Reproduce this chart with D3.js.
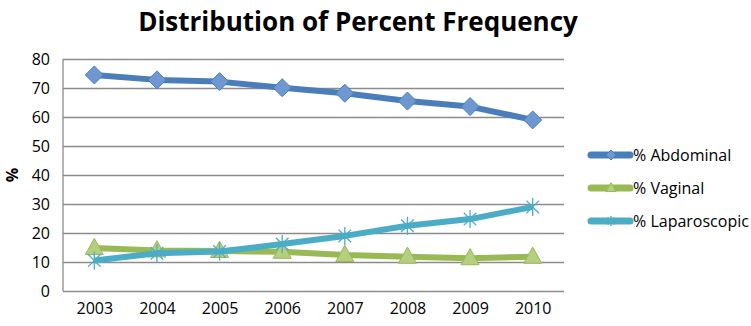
<!DOCTYPE html>
<html>
<head>
<meta charset="utf-8">
<script src="https://cdn.jsdelivr.net/npm/d3@7"></script>
<style>
  body { margin: 0; background: #fff; }
  text { font-family: "Open Sans", "Liberation Sans", sans-serif; fill: #000; }
  .grid line { stroke: #8c8c8c; stroke-width: 1.3; }
  .grid path { display: none; }
  .axis path, .axis line { display: none; }
</style>
</head>
<body>
<svg id="chart" width="751" height="326"></svg>
<script>
// data
const years = ['2003', '2004', '2005', '2006', '2007', '2008', '2009', '2010'];
const abdominal = [74.5, 72.8, 72.2, 70.1, 68.2, 65.5, 63.6, 59];
const vaginal = [14.8, 14.0, 13.8, 13.5, 12.4, 11.8, 11.3, 11.8];
const laparoscopic = [10.5, 13.0, 13.6, 16.2, 19.0, 22.5, 24.8, 29.0];
const yTicks = [0, 10, 20, 30, 40, 50, 60, 70, 80];
const title = 'Distribution of Percent Frequency';

const series = [
  {name: '% Abdominal', values: abdominal, color: '#4a7ebb', fill: '#6f98d2', marker: 'diamond'},
  {name: '% Vaginal', values: vaginal, color: '#98b954', fill: '#b5cf80', marker: 'triangle'},
  {name: '% Laparoscopic', values: laparoscopic, color: '#4bacc6', fill: 'none', marker: 'star'}
];

const svg = d3.select('#chart');
const margin = {top: 59, left: 63, right: 187, bottom: 35};
const chartWidth = 751 - margin.left - margin.right;
const chartHeight = 326 - margin.top - margin.bottom;

const xScale = d3.scalePoint()
  .domain(years)
  .range([0, chartWidth])
  .padding(0.5);

const yScale = d3.scaleLinear()
  .domain([0, 80])
  .range([chartHeight, 0]);

const g = svg.append('g')
  .attr('transform', `translate(${margin.left}, ${margin.top})`);

// gridlines
g.append('g')
  .attr('class', 'grid')
  .call(d3.axisLeft(yScale).tickValues(yTicks).tickSize(-chartWidth).tickFormat(''));

// left border of plot
g.append('line')
  .attr('x1', 0).attr('x2', 0)
  .attr('y1', 0).attr('y2', chartHeight)
  .attr('stroke', '#8c8c8c').attr('stroke-width', 1.3);

// axes labels
g.append('g')
  .attr('class', 'axis')
  .call(d3.axisLeft(yScale).tickValues(yTicks).tickSize(0).tickPadding(13))
  .selectAll('text')
  .style('font-size', '16px');

g.append('g')
  .attr('class', 'axis')
  .attr('transform', `translate(0, ${chartHeight})`)
  .call(d3.axisBottom(xScale).tickSize(0).tickPadding(12))
  .selectAll('text')
  .style('font-size', '16px');

// marker drawing (r = half width)
function drawMarker(sel, s, r) {
  if (s.marker === 'diamond') {
    sel.append('path')
      .attr('d', `M0,${-r}L${r},0L0,${r}L${-r},0Z`)
      .attr('fill', s.fill).attr('stroke', s.color).attr('stroke-width', 1);
  } else if (s.marker === 'triangle') {
    const h = r * 1.8;
    sel.append('path')
      .attr('d', `M0,${-h * 0.6}L${r},${h * 0.4}L${-r},${h * 0.4}Z`)
      .attr('fill', s.fill).attr('stroke', s.color).attr('stroke-width', 1);
  } else {
    const a = r * 0.7;
    const lines = [[0, -r, 0, r], [-a, -a, a, a], [-a, a, a, -a]];
    sel.selectAll('line.star').data(lines).join('line')
      .attr('class', 'star')
      .attr('x1', d => d[0]).attr('y1', d => d[1])
      .attr('x2', d => d[2]).attr('y2', d => d[3])
      .attr('stroke', s.color).attr('stroke-width', 1.3);
  }
}

const line = d3.line()
  .x((d, i) => xScale(years[i]))
  .y(d => yScale(d));

// draw in order: vaginal, laparoscopic, abdominal
[1, 2, 0].forEach(k => {
  const s = series[k];
  g.append('path')
    .datum(s.values)
    .attr('fill', 'none')
    .attr('stroke', s.color)
    .attr('stroke-width', 6)
    .attr('stroke-linejoin', 'round')
    .attr('d', line);

  s.values.forEach((v, i) => {
    const m = g.append('g')
      .attr('transform', `translate(${xScale(years[i])}, ${yScale(v)})`);
    drawMarker(m, s, 9);
  });
});

// legend
const legend = svg.append('g')
  .attr('transform', 'translate(591, 155)');

series.forEach((s, i) => {
  const row = legend.append('g')
    .attr('transform', `translate(0, ${i * 33})`);
  row.append('line')
    .attr('x1', 0).attr('x2', 39)
    .attr('stroke', s.color)
    .attr('stroke-width', 7)
    .attr('stroke-linecap', 'round');
  const m = row.append('g').attr('transform', 'translate(20, 0)');
  drawMarker(m, s, 5);
  row.append('text')
    .attr('x', 42)
    .attr('y', 0)
    .attr('dy', '0.35em')
    .style('font-size', '16px')
    .text(s.name);
});

// y label
svg.append('text')
  .attr('transform', 'rotate(-90)')
  .attr('x', -175)
  .attr('y', 18)
  .attr('text-anchor', 'middle')
  .style('font-size', '16px')
  .style('font-weight', 'bold')
  .text('%');

// title
svg.append('text')
  .attr('x', 358)
  .attr('y', 31)
  .attr('text-anchor', 'middle')
  .style('font-size', '26px')
  .style('font-weight', 'bold')
  .text(title);
</script>
</body>
</html>
